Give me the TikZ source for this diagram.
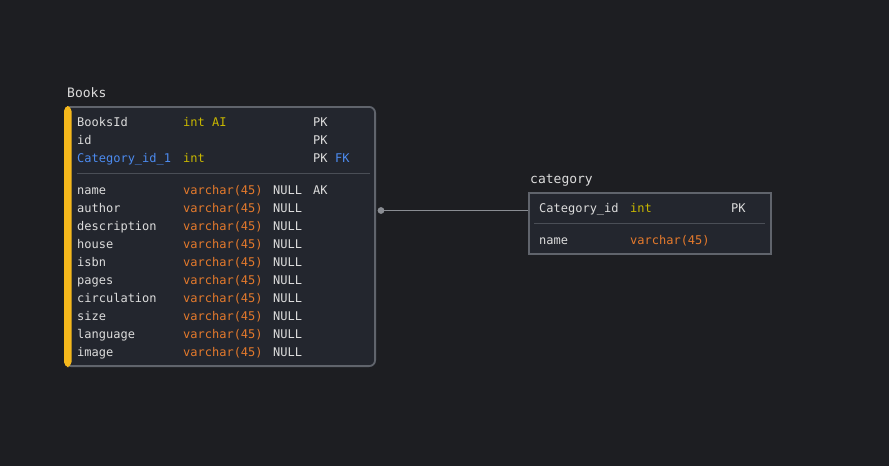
\documentclass[tikz,border=0pt]{standalone}
\usepackage{fontspec}
\setmonofont{DejaVu Sans Mono}
\definecolor{bg}{HTML}{1D1E22}
\definecolor{tablefill}{HTML}{23262E}
\definecolor{bordergray}{HTML}{60646C}
\definecolor{sepgray}{HTML}{4A4E56}
\definecolor{barYellow}{HTML}{F5B81C}
\definecolor{txt}{HTML}{DCDCDC}
\definecolor{typeYellow}{HTML}{C9B800}
\definecolor{typeOrange}{HTML}{E57A2C}
\definecolor{keyBlue}{HTML}{4C8BF0}
\definecolor{linkgray}{HTML}{8A8D93}
\begin{document}
\begin{tikzpicture}[x=1pt,y=-1pt,
  cell/.style={anchor=base west,inner sep=0pt,font=\ttfamily\fontsize{12}{12}\selectfont,text=txt},
  title/.style={anchor=base west,inner sep=0pt,font=\ttfamily\fontsize{13}{13}\selectfont,text=txt},
  ty/.style={cell,text=typeYellow},
  to/.style={cell,text=typeOrange},
  kb/.style={cell,text=keyBlue}]
\fill[bg] (0,0) rectangle (889,466);
\useasboundingbox (0,0) rectangle (889,466);
% Books table
\node[title] (booksT) at (67,97) {Books};
\fill[tablefill,rounded corners=6pt] (64,106) rectangle (376,367);
\draw[bordergray,line width=1.8pt,rounded corners=6pt] (64.9,106.9) rectangle (375.1,366.1);
\fill[barYellow,rounded corners=5pt] (64,106) -- (71.5,106) -- (71.5,367) -- (64,367) -- cycle;
\node[inner sep=0pt,minimum width=312pt,minimum height=261pt,anchor=north west] (books) at (64,106) {};
\draw[sepgray,line width=0.9pt] (77,173.5) -- (370,173.5);
% key rows
\node[cell] (b1n) at (77,126) {BooksId};
\node[ty]   (b1t) at (183,126) {int AI};
\node[cell] (b1k) at (313,126) {PK};
\node[cell] (b2n) at (77,144) {id};
\node[cell] (b2k) at (313,144) {PK};
\node[kb]   (b3n) at (77,162) {Category\_id\_1};
\node[ty]   (b3t) at (183,162) {int};
\node[cell] (b3k) at (313,162) {PK};
\node[kb]   (b3f) at (335,162) {FK};
% attribute rows
\foreach \nm [count=\i from 0] in {name,author,description,house,isbn,pages,circulation,size,language,image}{
  \node[cell] (br\i n) at (77,194+18*\i) {\nm};
  \node[to]   (br\i t) at (183,194+18*\i) {varchar(45)};
  \node[cell] (br\i u) at (273,194+18*\i) {NULL};
}
\node[cell] (br0k) at (313,194) {AK};
% category table
\node[title] (catT) at (530,183) {category};
\fill[tablefill] (528,192) rectangle (772,255);
\draw[bordergray,line width=1.8pt] (528.9,192.9) rectangle (771.1,254.1);
\node[inner sep=0pt,minimum width=244pt,minimum height=63pt,anchor=north west] (cat) at (528,192) {};
\draw[sepgray,line width=0.9pt] (534,223.5) -- (765,223.5);
\node[cell] (c1n) at (539,212) {Category\_id};
\node[ty]   (c1t) at (630,212) {int};
\node[cell] (c1k) at (731,212) {PK};
\node[cell] (c2n) at (539,244) {name};
\node[to]   (c2t) at (630,244) {varchar(45)};
% connector
\coordinate (dot) at (381,210.5);
\draw[linkgray,line width=1pt] (dot) -- (cat.west |- dot);
\fill[linkgray] (dot) circle (3.4pt);
\end{tikzpicture}
\end{document}
